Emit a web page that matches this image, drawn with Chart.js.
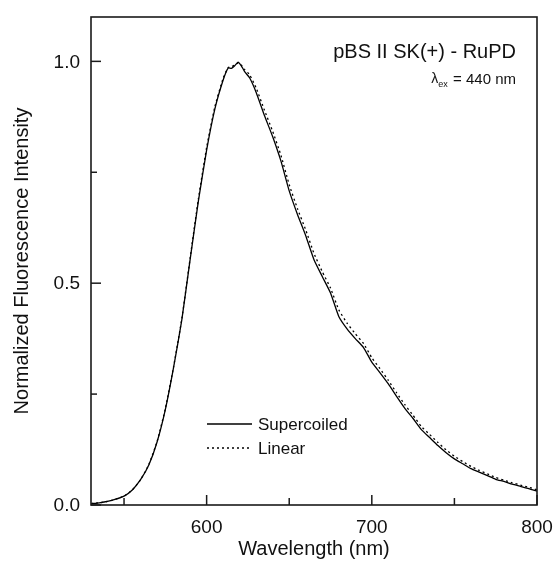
<!DOCTYPE html>
<html>
<head>
<meta charset="utf-8">
<script src="https://cdn.jsdelivr.net/npm/chart.js@4/dist/chart.umd.min.js"></script>
<style>
  html, body { margin: 0; padding: 0; background: #fff; }
  #wrap { width: 555px; height: 561px; }
</style>
</head>
<body>
<div id="wrap"><canvas id="myChart" width="555" height="561"></canvas></div>
<script>
// wavelength (nm)
const wavelengths = [530, 535, 540, 545, 550, 555, 560, 565, 570, 575, 580, 585, 590, 595, 600, 605, 610, 613, 615, 617, 619, 621, 623, 626, 630, 635, 640, 645, 650, 655, 660, 665, 670, 675, 680, 685, 690, 695, 700, 705, 710, 715, 720, 725, 730, 735, 740, 745, 750, 755, 760, 765, 770, 775, 780, 785, 790, 795, 800];
// normalized intensity, supercoiled DNA (solid)
const supercoiled = [0.003, 0.005, 0.008, 0.013, 0.020, 0.034, 0.057, 0.090, 0.142, 0.215, 0.310, 0.418, 0.553, 0.685, 0.800, 0.893, 0.958, 0.985, 0.984, 0.990, 0.998, 0.990, 0.977, 0.963, 0.930, 0.878, 0.830, 0.775, 0.708, 0.655, 0.607, 0.553, 0.515, 0.478, 0.425, 0.397, 0.375, 0.355, 0.322, 0.298, 0.273, 0.245, 0.218, 0.195, 0.170, 0.152, 0.134, 0.118, 0.104, 0.093, 0.082, 0.074, 0.066, 0.058, 0.053, 0.047, 0.042, 0.037, 0.031];
// normalized intensity, linear DNA (dotted)
const linear = [0.003, 0.005, 0.008, 0.013, 0.020, 0.034, 0.057, 0.091, 0.143, 0.217, 0.312, 0.420, 0.556, 0.690, 0.806, 0.898, 0.962, 0.986, 0.988, 0.992, 0.996, 0.992, 0.982, 0.970, 0.940, 0.890, 0.842, 0.788, 0.722, 0.668, 0.620, 0.567, 0.526, 0.489, 0.440, 0.410, 0.386, 0.364, 0.332, 0.307, 0.281, 0.253, 0.226, 0.202, 0.177, 0.159, 0.141, 0.124, 0.110, 0.098, 0.087, 0.078, 0.070, 0.062, 0.056, 0.050, 0.045, 0.040, 0.034];

const xTicks = [550, 600, 650, 700, 750, 800];
const xLabels = [600, 700, 800];
const yTicks = [0, 0.25, 0.5, 0.75, 1.0];
const yLabels = [0, 0.5, 1.0];

const seriesNames = ["Supercoiled", "Linear"];
const xTitle = "Wavelength (nm)";
const yTitle = "Normalized Fluorescence Intensity";
const titleText = "pBS II SK(+) - RuPD";
const exText = ["\u03BB", "ex", " = 440 nm"];

const FONT = "Arial, 'Liberation Sans', sans-serif";

const toPts = (ys) => wavelengths.map((x, i) => ({ x: x, y: ys[i] }));

// frame, inward ticks, tick labels, axis titles, legend, annotation
const decorPlugin = {
    id: "decor",
    afterDraw(chart) {
        const ctx = chart.ctx;
        const a = chart.chartArea;
        const xs = chart.scales.x;
        const ys = chart.scales.y;
        ctx.save();
        ctx.strokeStyle = "#1a1a1a";
        ctx.lineWidth = 1.6;
        ctx.strokeRect(a.left, a.top, a.right - a.left, a.bottom - a.top);

        ctx.lineWidth = 1.5;
        ctx.fillStyle = "#111";
        ctx.font = "19px " + FONT;
        xTicks.forEach(v => {
            const px = xs.getPixelForValue(v);
            const major = xLabels.includes(v);
            ctx.beginPath();
            ctx.moveTo(px, a.bottom);
            ctx.lineTo(px, a.bottom - (major ? 10 : 7));
            ctx.stroke();
            if (major) {
                ctx.textAlign = "center";
                ctx.textBaseline = "middle";
                ctx.fillText(String(v), px, a.bottom + 23);
            }
        });
        yTicks.forEach(v => {
            const py = ys.getPixelForValue(v);
            const major = yLabels.includes(v);
            ctx.beginPath();
            ctx.moveTo(a.left, py);
            ctx.lineTo(a.left + (major ? 10 : 6), py);
            ctx.stroke();
            if (major) {
                ctx.textAlign = "right";
                ctx.textBaseline = "middle";
                ctx.fillText(v.toFixed(1), a.left - 11, py + 1);
            }
        });

        // axis titles
        ctx.font = "20px " + FONT;
        ctx.textAlign = "center";
        ctx.textBaseline = "middle";
        ctx.fillText(xTitle, (a.left + a.right) / 2, 549);
        ctx.save();
        ctx.translate(22, (a.top + a.bottom) / 2);
        ctx.rotate(-Math.PI / 2);
        ctx.fillText(yTitle, 0, 0);
        ctx.restore();

        // legend
        const lx = a.left + 116, ly = a.top + 407, gap = 24;
        chart.data.datasets.forEach((ds, i) => {
            const y = ly + i * gap;
            ctx.beginPath();
            ctx.strokeStyle = "#000";
            ctx.lineWidth = 1.3;
            ctx.setLineDash(ds.borderDash || []);
            ctx.moveTo(lx, y);
            ctx.lineTo(lx + 45, y);
            ctx.stroke();
            ctx.setLineDash([]);
            ctx.fillStyle = "#111";
            ctx.font = "17px " + FONT;
            ctx.textBaseline = "middle";
            ctx.textAlign = "left";
            ctx.fillText(ds.label, lx + 51, y + 1);
        });

        // annotation
        const rx = a.right - 21;
        ctx.fillStyle = "#111";
        ctx.textAlign = "right";
        ctx.textBaseline = "middle";
        ctx.font = "20px " + FONT;
        ctx.fillText(titleText, rx, a.top + 35);

        ctx.font = "15px " + FONT;
        const w3 = ctx.measureText(exText[2]).width;
        ctx.textAlign = "left";
        ctx.fillText(exText[2], rx - w3, a.top + 63);
        ctx.font = "9px " + FONT;
        const w2 = ctx.measureText(exText[1]).width;
        ctx.fillText(exText[1], rx - w3 - w2 - 1, a.top + 68);
        ctx.font = "14px " + FONT;
        const w1 = ctx.measureText(exText[0]).width;
        ctx.fillText(exText[0], rx - w3 - w2 - w1 - 1, a.top + 62);
        ctx.restore();
    }
};

new Chart(document.getElementById("myChart"), {
    type: "line",
    data: {
        datasets: [
            {
                label: seriesNames[0],
                data: toPts(supercoiled),
                borderColor: "#000",
                borderWidth: 1.3,
                pointRadius: 0,
                tension: 0.15
            },
            {
                label: seriesNames[1],
                data: toPts(linear),
                borderColor: "#000",
                borderWidth: 1.3,
                borderDash: [2, 3],
                pointRadius: 0,
                tension: 0.15
            }
        ]
    },
    options: {
        responsive: false,
        animation: false,
        layout: { padding: { top: 17, right: 18, left: 0, bottom: 0 } },
        plugins: { legend: { display: false }, tooltip: { enabled: false } },
        scales: {
            x: {
                type: "linear",
                min: 530,
                max: 800,
                grid: { display: false },
                border: { display: false },
                ticks: { display: false },
                afterFit: (s) => { s.height = 56; }
            },
            y: {
                type: "linear",
                min: 0,
                max: 1.1,
                grid: { display: false },
                border: { display: false },
                ticks: { display: false },
                afterFit: (s) => { s.width = 91; }
            }
        }
    },
    plugins: [decorPlugin]
});
</script>
</body>
</html>
